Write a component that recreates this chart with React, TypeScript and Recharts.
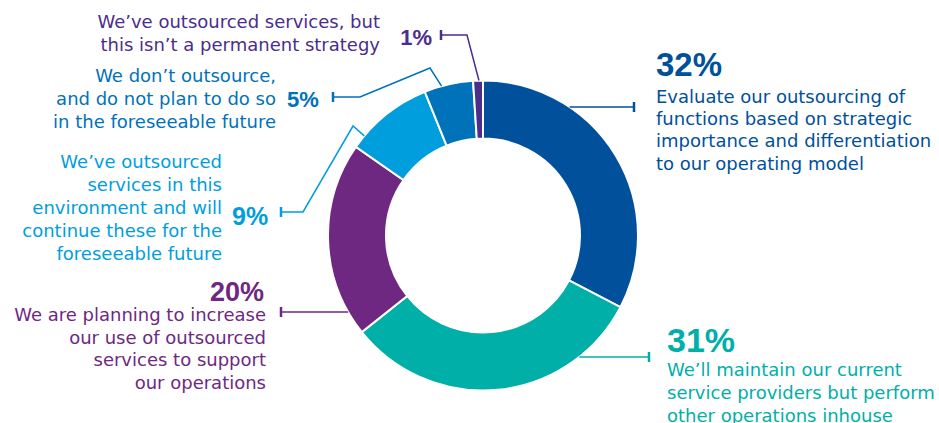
import React from 'react';
import { PieChart, Pie, Cell } from 'recharts';

// Survey answers, clockwise from 12 o'clock
const categories = [
  ['Evaluate our outsourcing of', 'functions based on strategic', 'importance and differentiation', 'to our operating model'],
  ['We’ll maintain our current', 'service providers but perform', 'other operations inhouse'],
  ['We are planning to increase', 'our use of outsourced', 'services to support', 'our operations'],
  ['We’ve outsourced', 'services in this', 'environment and will', 'continue these for the', 'foreseeable future'],
  ['We don’t outsource,', 'and do not plan to do so', 'in the foreseeable future'],
  ['We’ve outsourced services, but', 'this isn’t a permanent strategy'],
];
const values = [32, 31, 20, 9, 5, 1];
const valueLabels = values.map((v) => `${v}%`);

const colors = ['#00509B', '#00AFA8', '#6E2882', '#009EDC', '#0072BA', '#4B2D8C'];

const data = values.map((value, i) => ({ name: categories[i].join(' '), value }));

// label placement (hand laid out in the original)
const layout: any[] = [
  { pctAnchor: 'start', pctX: 656, pctY: 76, pctSize: 33, textAnchor: 'start', textX: 656, textY: 103, lh: 22.2, cap: [634, 107] },
  { pctAnchor: 'start', pctX: 667, pctY: 352, pctSize: 34, textAnchor: 'start', textX: 667, textY: 376, lh: 23, cap: [649, 357] },
  { pctAnchor: 'end', pctX: 264, pctY: 301, pctSize: 27, textAnchor: 'end', textX: 266, textY: 321, lh: 22.7, cap: [281, 312] },
  { pctAnchor: 'start', pctX: 232, pctY: 225, pctSize: 25, textAnchor: 'end', textX: 222, textY: 168, lh: 23, cap: [281, 212], bends: [[303, 212], [353, 126]], ringAngle: 140 },
  { pctAnchor: 'start', pctX: 287, pctY: 107, pctSize: 22, textAnchor: 'end', textX: 276, textY: 82, lh: 23, cap: [333, 97], bends: [[360, 97], [430, 68]], ringAngle: 105.5 },
  { pctAnchor: 'end', pctX: 432, pctY: 45, pctSize: 22, textAnchor: 'end', textX: 380, textY: 28, lh: 23, cap: [441, 35], bends: [[467, 35]], ringAngle: 91.5 },
];

const RADIAN = Math.PI / 180;
const textFont = "'DejaVu Sans', sans-serif";
const pctFont = "'Liberation Sans', Arial, sans-serif";

const renderLabel = (props: any) => {
  const { cx, cy, outerRadius, midAngle, index } = props;
  const l = layout[index];
  const color = colors[index];
  const [capX, capY] = l.cap;

  // where the leader meets the ring
  let rx: number;
  let ry: number;
  if (l.bends) {
    const a = l.ringAngle ?? midAngle;
    rx = cx + outerRadius * Math.cos(-a * RADIAN);
    ry = cy + outerRadius * Math.sin(-a * RADIAN);
  } else {
    const dy = capY - cy;
    const dx = Math.sqrt(Math.max(0, outerRadius * outerRadius - dy * dy));
    rx = capX > cx ? cx + dx : cx - dx;
    ry = capY;
  }
  const pts = [[capX, capY], ...(l.bends || []), [rx, ry]];
  const d = pts.map((p, i) => `${i === 0 ? 'M' : 'L'}${p[0]},${p[1]}`).join(' ');

  return (
    <g key={`label-${index}`}>
      <path d={d} fill="none" stroke={color} strokeWidth={1.5} />
      <line x1={capX} y1={capY - 5} x2={capX} y2={capY + 5} stroke={color} strokeWidth={2.5} />
      <text
        x={l.pctX}
        y={l.pctY}
        textAnchor={l.pctAnchor}
        fill={color}
        fontFamily={pctFont}
        fontWeight="bold"
        fontSize={l.pctSize}
      >
        {valueLabels[index]}
      </text>
      {categories[index].map((line, j) => (
        <text
          key={j}
          x={l.textX}
          y={l.textY + j * l.lh}
          textAnchor={l.textAnchor}
          fill={color}
          fontFamily={textFont}
          fontSize={18}
        >
          {line}
        </text>
      ))}
    </g>
  );
};

export default function App() {
  return (
    <div style={{ width: 939, height: 423, background: '#fff', overflow: 'hidden' }}>
      <style>{`body { margin: 0; }`}</style>
      <PieChart width={939} height={423} margin={{ top: 0, right: 0, bottom: 0, left: 0 }}>
        <Pie
          data={data}
          dataKey="value"
          nameKey="name"
          cx={483}
          cy={235.5}
          innerRadius={97}
          outerRadius={155}
          startAngle={90}
          endAngle={-270}
          stroke="#fff"
          strokeWidth={2}
          label={renderLabel}
          labelLine={false}
          isAnimationActive={false}
        >
          {data.map((entry, index) => (
            <Cell key={`cell-${index}`} fill={colors[index]} />
          ))}
        </Pie>
      </PieChart>
    </div>
  );
}
